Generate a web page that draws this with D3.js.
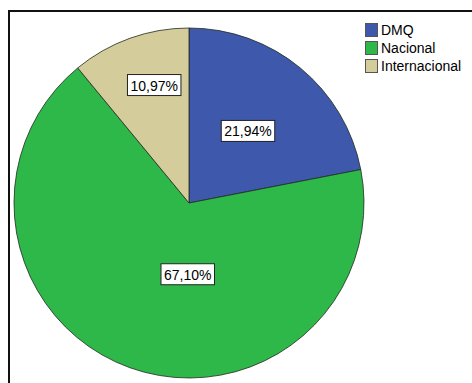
<!DOCTYPE html>
<html>
<head>
<meta charset="utf-8">
<script src="https://cdn.jsdelivr.net/npm/d3@7"></script>
<style>
  html, body { margin: 0; padding: 0; background: #fff; }
  svg { display: block; }
</style>
</head>
<body>
<svg id="chart" width="472" height="383"></svg>
<script>
// data
const categories = ["DMQ", "Nacional", "Internacional"];
const percents = [21.94, 67.10, 10.97];
const colors = ["#3e58ab", "#2fb84a", "#d5cc9b"];
// where each label box sits: [angle in degrees from 12 o'clock, fraction of radius]
const labelSpots = [[39.5, 0.53], [181, 0.41], [343.5, 0.70]];

const W = 472, H = 383;
const cx = 189, cy = 203, radius = 175;

const svg = d3.select("#chart");

// outer frame (top + left edges visible)
svg.append("line")
  .attr("x1", 9).attr("y1", 11).attr("x2", W).attr("y2", 11)
  .attr("stroke", "#111").attr("stroke-width", 2);
svg.append("line")
  .attr("x1", 9).attr("y1", 10).attr("x2", 9).attr("y2", H)
  .attr("stroke", "#111").attr("stroke-width", 2);

const data = categories.map((c, i) => ({ name: c, value: percents[i], color: colors[i], spot: labelSpots[i] }));

const pie = d3.pie()
  .value((d) => d.value)
  .sort(null)
  .startAngle(0)
  .endAngle(2 * Math.PI);

const arc = d3.arc().innerRadius(0).outerRadius(radius);

const g = svg.append("g").attr("transform", `translate(${cx},${cy})`);

g.selectAll("path.slice")
  .data(pie(data))
  .join("path")
  .attr("class", "slice")
  .attr("d", arc)
  .attr("fill", (d) => d.data.color)
  .attr("stroke", "#1f2a1f")
  .attr("stroke-width", 0.8);

// percentage labels in white boxes
const fmt = (v) => v.toFixed(2).replace(".", ",") + "%";

const labels = g.selectAll("g.lbl")
  .data(pie(data))
  .join("g")
  .attr("class", "lbl")
  .attr("transform", (d) => {
    const a = (d.data.spot[0] * Math.PI) / 180;
    const r = d.data.spot[1] * radius;
    return `translate(${Math.sin(a) * r},${-Math.cos(a) * r})`;
  });

labels.each(function (d) {
  const sel = d3.select(this);
  const txt = sel.append("text")
    .attr("text-anchor", "middle")
    .attr("dy", "0.36em")
    .style("font-family", "Arial, 'Liberation Sans', sans-serif")
    .style("font-size", "14px")
    .attr("fill", "#000")
    .text(fmt(d.data.value));
  const bb = txt.node().getBBox();
  sel.insert("rect", "text")
    .attr("x", bb.x - 3)
    .attr("y", -11)
    .attr("width", bb.width + 6)
    .attr("height", 21)
    .attr("fill", "#fff")
    .attr("stroke", "#222")
    .attr("stroke-width", 1);
});

// legend
const legend = svg.append("g").attr("transform", "translate(365,23)");
const item = legend.selectAll("g")
  .data(data)
  .join("g")
  .attr("transform", (d, i) => `translate(0,${i * 18})`);

item.append("rect")
  .attr("x", 0.5).attr("y", 0.5)
  .attr("width", 12).attr("height", 13)
  .attr("fill", (d) => d.color)
  .attr("stroke", "#555")
  .attr("stroke-width", 1);

item.append("text")
  .attr("x", 16)
  .attr("y", 12)
  .style("font-family", "Arial, 'Liberation Sans', sans-serif")
  .style("font-size", "14px")
  .attr("fill", "#000")
  .text((d) => d.name);
</script>
</body>
</html>
